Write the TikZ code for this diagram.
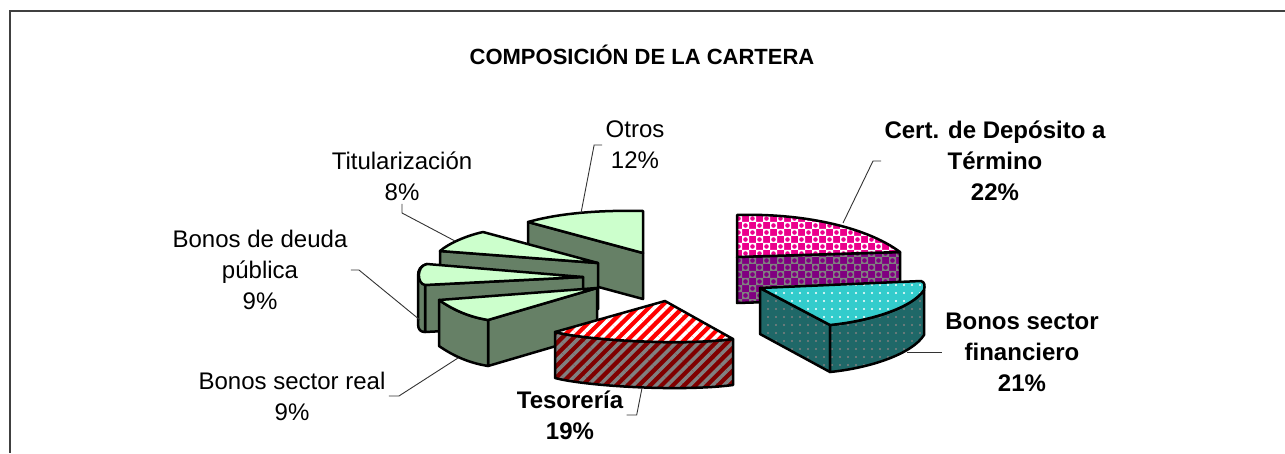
\documentclass[tikz,border=0pt]{standalone}
\usepackage{fontspec}
\setmainfont{Liberation Sans}
\usetikzlibrary{patterns.meta}

\definecolor{verdeclaro}{HTML}{CCFFCC}
\definecolor{verdeosc}{HTML}{668066}
\definecolor{rojoosc}{HTML}{800000}
\definecolor{morado}{HTML}{800080}
\definecolor{turq}{HTML}{33CCCC}
\definecolor{turqosc}{HTML}{1F6868}

% Muster fuer Cert. de Deposito
\tikzdeclarepattern{
  name=bolas,
  type=uncolored,
  bottom left={(-.1pt,-.1pt)},
  top right={(14.1pt,14.1pt)},
  tile size={(14pt,14pt)},
  code={
    \tikzset{x=1pt,y=1pt}
    \fill[even odd rule] (0,0) rectangle (7,7) (3.5,3.5) circle (2.4);
    \fill[even odd rule] (7,7) rectangle (14,14) (10.5,10.5) circle (2.4);
  }
}

\begin{document}
\begin{tikzpicture}[x=1pt, y=-1pt,
    every node/.style={font=\fontsize{24}{31}\selectfont, align=center},
    negrita/.style={font=\bfseries\fontsize{24}{31}\selectfont},
    trozo/.style={draw=black, line width=2.5pt, line join=round},
    guia/.style={draw=black!80, line width=0.9pt},
    verdesup/.style={trozo, fill=verdeclaro},
    verdelat/.style={trozo, fill=verdeosc},
    rojosup/.style={trozo, preaction={fill=red}, pattern={Lines[angle=45,distance=8pt,line width=3.5pt]}, pattern color=white},
    rojolat/.style={trozo, preaction={fill=rojoosc}, pattern={Lines[angle=45,distance=8pt,line width=3.5pt]}, pattern color=gray},
    magsup/.style={trozo, preaction={fill=magenta}, pattern=bolas, pattern color=white},
    maglat/.style={trozo, preaction={fill=morado}, pattern=bolas, pattern color=gray},
    turqsup/.style={trozo, preaction={fill=turq}, pattern={Dots[distance=8pt,radius=1.1pt]}, pattern color=white},
    turqlat/.style={trozo, preaction={fill=turqosc}, pattern={Dots[distance=8pt,radius=1.1pt]}, pattern color=gray}]
    \useasboundingbox (0,0) rectangle (1285,453);

    % Rahmen
    \draw[black!75, line width=2pt] (1285,11) -- (10,11) -- (10,453);

    % Otros
    \path[verdelat] (528,222) -- (643,253) -- (643,299) -- (528,268) -- cycle;
    \path[verdesup] (528,222) .. controls (560,213) and (600,210) .. (643,211) -- (643,253) -- cycle;

    % Titularizacion
    \path[verdelat] (440,251) -- (598,263) -- (598,309) -- (440,297) -- cycle;
    \path[verdesup] (440,251) .. controls (448,244) and (465,236) .. (483,232) -- (598,263) -- cycle;

    % Bonos de deuda publica
    \path[verdelat] (425,285) -- (583,277) -- (583,324) -- (425,332) -- cycle;
    \path[verdelat] (427,264) .. controls (420,266) and (418,270) .. (418,276) -- (418,324)
        .. controls (418,330) and (421,332) .. (425,332) -- (425,285) -- cycle;
    \path[verdesup] (427,264) -- (583,277) -- (425,285) .. controls (417,284) and (416,266) .. (427,264) -- cycle;

    % Bonos sector real
    \path[verdelat] (488,320) -- (597,288) -- (597,334) -- (488,366) -- cycle;
    \path[verdelat] (439,300) .. controls (455,311) and (470,317) .. (488,320) -- (488,366)
        .. controls (470,363) and (455,357) .. (439,346) -- cycle;
    \path[verdesup] (439,300) .. controls (455,311) and (470,317) .. (488,320) -- (597,288) -- cycle;

    % Tesoreria
    \path[rojolat] (555,332) .. controls (585,340) and (680,346) .. (733,339) -- (733,385)
        .. controls (680,392) and (585,386) .. (555,378) -- cycle;
    \path[rojosup] (555,332) -- (665,301) -- (733,339) .. controls (680,346) and (585,340) .. (555,332) -- cycle;

    % Cert. de Deposito a Termino
    \path[maglat] (737,257) -- (900,252) -- (900,298) -- (737,303) -- cycle;
    \path[magsup] (737,215) .. controls (800,213) and (865,226) .. (900,252) -- (737,257) -- cycle;

    % Bonos sector financiero
    \path[turqlat] (760,288) -- (830,325) -- (830,372) -- (760,334) -- cycle;
    \path[turqlat] (830,325) .. controls (870,321) and (912,308) .. (924,290) -- (924,335)
        .. controls (912,354) and (870,368) .. (830,372) -- cycle;
    \path[turqsup] (760,288) -- (921,281) .. controls (925,282) and (925,286) .. (924,290)
        .. controls (912,308) and (870,321) .. (830,325) -- cycle;

    % Titel
    \node[font=\bfseries\fontsize{22}{26}\selectfont] (titulo) at (642,55) {COMPOSICIÓN DE LA CARTERA};

    % Beschriftungen
    \node (lotros) at (635,145) {Otros\\12\%};
    \node (ltitul) at (402,176) {Titularización\\8\%};
    \node (ldeuda) at (260,270) {Bonos de deuda\\pública\\9\%};
    \node (lreal) at (292,396) {Bonos sector real\\9\%};
    \node[negrita] (ltes) at (570,415) {Tesorería\\19\%};
    \node[negrita] (lcert) at (995,161) {Cert. de Depósito a\\Término\\22\%};
    \node[negrita] (lfin) at (1022,352) {Bonos sector\\financiero\\21\%};

    % Hinweislinien
    \coordinate (gotros) at (581,213);
    \coordinate (gtitul) at (455,241);
    \coordinate (gdeuda) at (420,320);
    \coordinate (greal) at (458,358);
    \coordinate (gtes) at (642,388);
    \coordinate (gcert) at (843,223);
    \coordinate (gfin) at (907,352);
    \draw[guia] (lotros.west) -- ++(-8,0) -- (gotros);
    \draw[guia] (ltitul.south) -- ++(0,9) -- (gtitul);
    \draw[guia] (ldeuda.east) -- ++(8,0) -- (gdeuda);
    \draw[guia] (lreal.east) -- ++(10,0) -- (greal);
    \draw[guia] (ltes.east) -- ++(10,0) -- (gtes);
    \draw[guia] (lcert.west) -- ++(-8,0) -- (gcert);
    \draw[guia] (lfin.west) -- (gfin);
\end{tikzpicture}
\end{document}
